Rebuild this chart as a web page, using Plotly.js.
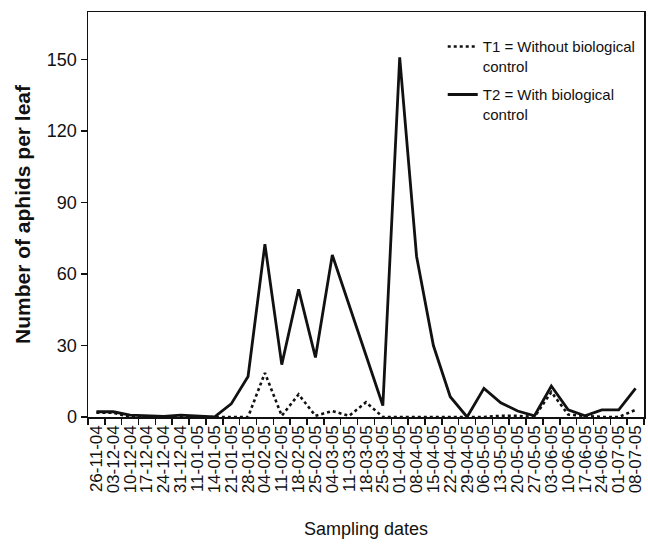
<!DOCTYPE html>
<html>
<head>
<meta charset="utf-8">
<script src="https://cdn.plot.ly/plotly-3.0.1.min.js"></script>
<style>
html,body{margin:0;padding:0;background:#fff;}
#chart{width:648px;height:544px;}
</style>
</head>
<body>
<div id="chart"></div>
<script>
var dates = ["26-11-04","03-12-04","10-12-04","17-12-04","24-12-04","31-12-04","11-01-05","14-01-05","21-01-05","28-01-05","04-02-05","11-02-05","18-02-05","25-02-05","04-03-05","11-03-05","18-03-05","25-03-05","01-04-05","08-04-05","15-04-05","22-04-05","29-04-05","06-05-05","13-05-05","20-05-05","27-05-05","03-06-05","10-06-05","17-06-05","24-06-05","01-07-05","08-07-05"];
var t1Values = [1.8,1.8,0,0,0,0,0,0,0,0,18.5,0.5,9.5,0.5,2.5,0.5,6.2,0,0,0,0,0,0,0,0.5,0.5,0,10.5,1,0.5,0,0,3];
var t2Values = [2.2,2.2,0.8,0.5,0.3,0.8,0.3,0,5.5,17,72.5,22,53.6,25,68,47,26,4.8,151,67.5,30,8.5,0,12,6,2.5,0.5,13,3,0.5,3,3,12];
var t1Name = "T1 = Without biological<br>control";
var t2Name = "T2 = With biological<br>control";
var yTicks = [0,30,60,90,120,150];

var FONT = "Liberation Sans, Arial, sans-serif";
var traces = [
  {x: dates, y: t1Values, type: "scatter", mode: "lines", name: t1Name, legendgroup: "t1",
   line: {color: "#111", width: 2.6, dash: "dot"}},
  {x: dates, y: t2Values, type: "scatter", mode: "lines", name: t2Name, legendgroup: "t2",
   line: {color: "#111", width: 2.8}}
];
var layout = {
  width: 648, height: 544,
  margin: {l: 88, r: 4, t: 12, b: 127},
  paper_bgcolor: "#fff", plot_bgcolor: "#fff",
  font: {family: FONT, color: "#111"},
  showlegend: true,
  legend: {x: 0.638, y: 0.955, xanchor: "left", yanchor: "top", bgcolor: "rgba(0,0,0,0)",
           font: {family: FONT, size: 15, color: "#111"}, valign: "top", tracegroupgap: 6},
  xaxis: {type: "category", range: [-0.5, 32.5], tickson: "boundaries",
          tickmode: "array", tickvals: dates, ticktext: dates,
          showline: true, mirror: true, linecolor: "#111", linewidth: 1.5,
          ticks: "outside", ticklen: 6, tickcolor: "#111", tickwidth: 1.5,
          tickangle: -90, tickfont: {family: FONT, size: 17, color: "#111"},
          showgrid: false, zeroline: false,
          title: {text: "Sampling dates", font: {family: FONT, size: 18, color: "#111"}, standoff: 30}},
  yaxis: {range: [0, 170], tickvals: yTicks, ticktext: yTicks.map(String),
          showline: true, mirror: true, linecolor: "#111", linewidth: 1.5,
          ticks: "outside", ticklen: 6, tickcolor: "#111", tickwidth: 1.5,
          tickfont: {family: FONT, size: 18, color: "#111"},
          showgrid: false, zeroline: false,
          title: {text: "Number of aphids per leaf", font: {family: FONT, size: 21, color: "#111", weight: "bold"}, standoff: 10}}
};
Plotly.newPlot("chart", traces, layout, {displayModeBar: false, staticPlot: true});
</script>
</body>
</html>
